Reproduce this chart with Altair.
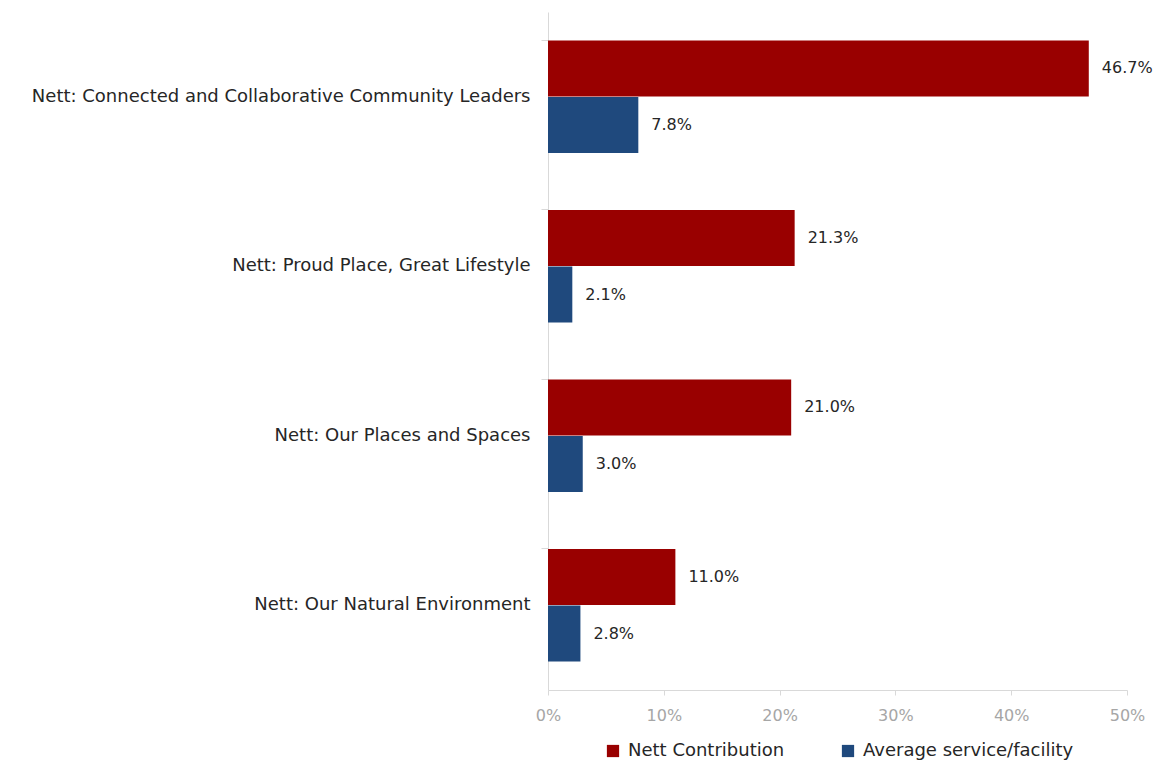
import altair as alt
import pandas as pd

categories = [
    "Nett: Connected and Collaborative Community Leaders",
    "Nett: Proud Place, Great Lifestyle",
    "Nett: Our Places and Spaces",
    "Nett: Our Natural Environment",
]
series = ["Nett Contribution", "Average service/facility"]
nett_values = [46.7, 21.3, 21.0, 11.0]
avg_values = [7.8, 2.1, 3.0, 2.8]
colors = ["#990000", "#1F497D"]

rows = []
for c, n, a in zip(categories, nett_values, avg_values):
    rows.append({"cat": c, "series": series[0], "value": n / 100})
    rows.append({"cat": c, "series": series[1], "value": a / 100})
df = pd.DataFrame(rows)

FONT = "DejaVu Sans"

y_enc = alt.Y(
    "cat:N",
    sort=categories,
    title=None,
    scale=alt.Scale(paddingInner=0.333, paddingOuter=0.1665),
    axis=alt.Axis(
        bandPosition=0,
        domainColor="#d9d9d9",
        tickColor="#d9d9d9",
        tickSize=7,
        labelFontSize=18,
        labelColor="#262626",
        labelFont=FONT,
        labelPadding=11,
        labelLimit=700,
        grid=False,
    ),
)
yoff = alt.YOffset("series:N", sort=series)
x_enc = alt.X(
    "value:Q",
    title=None,
    scale=alt.Scale(domain=[0, 0.5], nice=False),
    axis=alt.Axis(
        format=".0%",
        values=[0, 0.1, 0.2, 0.3, 0.4, 0.5],
        domainColor="#d9d9d9",
        tickColor="#d9d9d9",
        tickSize=5,
        labelFontSize=16,
        labelColor="#a6a6a6",
        labelFont=FONT,
        labelPadding=12,
        labelFlush=False,
        grid=False,
    ),
)

bars = alt.Chart(df).mark_bar(size=56).encode(
    x=x_enc,
    y=y_enc,
    yOffset=yoff,
    color=alt.Color(
        "series:N",
        sort=series,
        scale=alt.Scale(domain=series, range=colors),
        legend=alt.Legend(
            title=None,
            orient="none",
            direction="horizontal",
            legendX=56,
            legendY=730,
            symbolType="square",
            symbolSize=150,
            symbolStrokeWidth=0,
            labelFontSize=18,
            labelFont=FONT,
            labelColor="#262626",
            labelLimit=400,
            columnPadding=54,
            labelOffset=6,
        ),
    ),
)

labels = alt.Chart(df).mark_text(
    align="left", baseline="middle", dx=13, fontSize=16, font=FONT, color="#262626"
).encode(
    x=alt.X("value:Q"),
    y=alt.Y("cat:N", sort=categories),
    yOffset=yoff,
    text=alt.Text("value:Q", format=".1%"),
)

chart = (
    alt.layer(bars, labels)
    .properties(
        width=579,
        height=678,
        padding={"left": 548, "top": 12, "right": 33, "bottom": 74},
        autosize=alt.AutoSizeParams(type="none"),
    )
    .configure_view(stroke=None)
)

chart.save("out.html", embed_options={"renderer": "svg", "actions": False})
